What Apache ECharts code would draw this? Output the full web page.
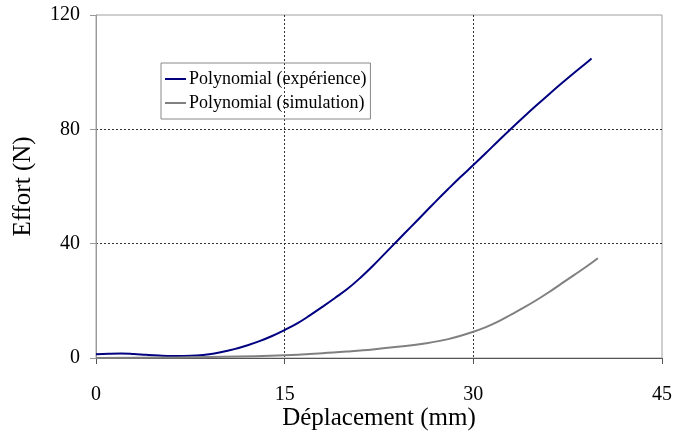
<!DOCTYPE html>
<html>
<head>
<meta charset="utf-8">
<script src="https://cdn.jsdelivr.net/npm/echarts@6/dist/echarts.min.js"></script>
<style>html,body{margin:0;padding:0;background:#fff}#c{width:673px;height:432px}</style>
</head>
<body>
<div id="c"></div>
<script>
var expX = [0, 1, 2, 3, 4, 5, 6, 7, 8, 9, 10, 11, 12, 13, 14, 15, 16, 17, 18, 19, 20, 21, 22, 23, 24, 25, 26, 27, 28, 29, 30, 31, 32, 33, 34, 35, 36, 37, 38, 39, 39.4];
var expY = [1.3, 1.5, 1.6, 1.4, 1.1, 0.85, 0.7, 0.7, 0.85, 1.3, 2.1, 3.1, 4.4, 5.9, 7.7, 9.8, 12.1, 14.9, 17.9, 21.0, 24.2, 28.0, 32.2, 36.7, 41.2, 45.7, 50.2, 54.7, 59.1, 63.4, 67.5, 71.7, 76.0, 80.2, 84.3, 88.3, 92.2, 96.0, 99.7, 103.3, 104.8];
var simX = [0, 5, 10, 15, 18, 20, 22, 24, 26, 28, 30, 31, 32, 33, 34, 35, 36, 37, 38, 39, 39.9];
var simY = [0, 0.15, 0.4, 1.0, 1.7, 2.3, 3.0, 3.9, 5.0, 6.6, 9.2, 10.8, 12.8, 15.2, 17.6, 20.2, 23.0, 26.0, 29.0, 32.0, 34.9];
var seriesNames = ['Polynomial (expérience)', 'Polynomial (simulation)'];
var xTitle = 'Déplacement (mm)';
var yTitle = 'Effort (N)';

function pairs(xs, ys) { return xs.map(function (x, i) { return [x, ys[i]]; }); }

var font = 'Liberation Serif, Times New Roman, serif';
var chart = echarts.init(document.getElementById('c'));
chart.setOption({
  animation: false,
  backgroundColor: '#fff',
  textStyle: { fontFamily: font },
  grid: { left: 96, right: 11, top: 15, bottom: 74, show: true, borderColor: '#a0a0a0', borderWidth: 1, containLabel: false, outerBoundsMode: 'none' },
  legend: {
    orient: 'vertical', left: 161, top: 63,
    borderColor: '#888', borderWidth: 1, padding: [7, 4, 7, 4], itemGap: 6,
    itemWidth: 21, itemHeight: 2, icon: 'rect',
    textStyle: { fontFamily: font, fontSize: 18, color: '#000', padding: [0, 0, 0, -2] },
    data: seriesNames
  },
  xAxis: {
    type: 'value', min: 0, max: 45, interval: 15,
    name: xTitle, nameLocation: 'middle', nameGap: 48, nameMoveOverlap: false,
    nameTextStyle: { fontFamily: font, fontSize: 25, color: '#000' },
    axisLine: { show: true, lineStyle: { color: '#555', width: 1 } },
    axisTick: { show: true, length: 6, lineStyle: { color: '#555' } },
    axisLabel: { fontFamily: font, fontSize: 20, color: '#000', margin: 27 },
    splitLine: { show: true, showMinLine: false, showMaxLine: false, lineStyle: { color: '#333', type: [2, 2], width: 1 } }
  },
  yAxis: {
    type: 'value', min: 0, max: 120, interval: 40,
    name: yTitle, nameLocation: 'middle', nameGap: 60, nameRotate: 90, nameMoveOverlap: false,
    nameTextStyle: { fontFamily: font, fontSize: 25, color: '#000' },
    axisLine: { show: true, lineStyle: { color: '#999', width: 1 } },
    axisTick: { show: true, length: 6, lineStyle: { color: '#999' } },
    axisLabel: { fontFamily: font, fontSize: 20, color: '#000', margin: 16 },
    splitLine: { show: true, showMinLine: false, showMaxLine: false, lineStyle: { color: '#333', type: [2, 2], width: 1 } }
  },
  series: [
    { name: seriesNames[0], type: 'line', smooth: 0.4, showSymbol: false, data: pairs(expX, expY), lineStyle: { color: '#000080', width: 2 }, itemStyle: { color: '#000080' } },
    { name: seriesNames[1], type: 'line', smooth: 0.4, showSymbol: false, data: pairs(simX, simY), lineStyle: { color: '#808080', width: 2 }, itemStyle: { color: '#808080' } }
  ]
});
</script>
</body>
</html>
